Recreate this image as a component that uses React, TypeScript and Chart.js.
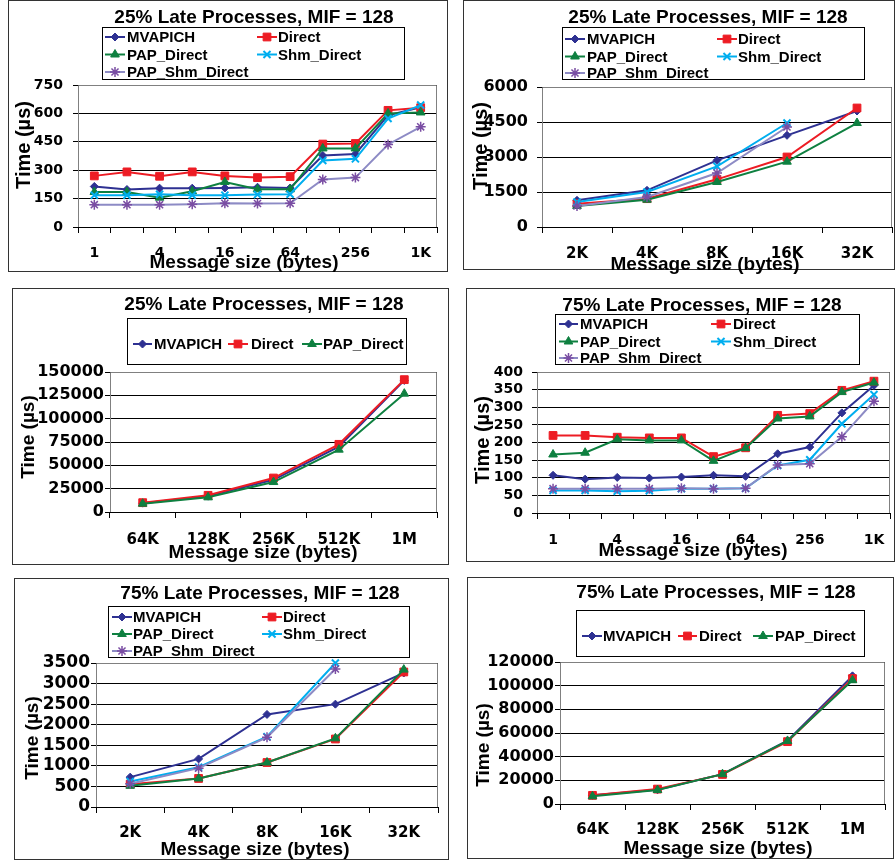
import React, { useEffect, useRef } from 'react';
import { Chart, registerables } from 'chart.js';
import { drawPoint } from 'chart.js/helpers';

Chart.register(...registerables);

// ---------- categories / tick labels ----------
const smallSizes = ['1', '2', '4', '8', '16', '32', '64', '128', '256', '512', '1K'];
const midSizes = ['2K', '4K', '8K', '16K', '32K'];
const largeSizes = ['64K', '128K', '256K', '512K', '1M'];

const seriesNames = ['MVAPICH', 'Direct', 'PAP_Direct', 'Shm_Direct', 'PAP_Shm_Direct'];

const title25 = '25% Late Processes, MIF = 128';
const title75 = '75% Late Processes, MIF = 128';
const xAxisTitle = 'Message size (bytes)';
const yAxisTitle = 'Time (µs)';

// ---------- 25% late, small messages ----------
const late25SmallMvapich = [214, 198, 205, 205, 206, 210, 206, 378, 386, 590, 632];
const late25SmallDirect = [270, 291, 268, 291, 270, 261, 266, 438, 441, 616, 630];
const late25SmallPap = [185, 185, 155, 189, 238, 199, 199, 415, 415, 600, 605];
const late25SmallShm = [168, 168, 173, 168, 168, 171, 173, 351, 360, 573, 644];
const late25SmallPapShm = [118, 118, 118, 120, 125, 124, 125, 251, 261, 436, 529];

// ---------- 25% late, medium messages ----------
const late25MidMvapich = [1143, 1571, 2857, 3929, 4971];
const late25MidDirect = [1000, 1214, 2043, 3000, 5100];
const late25MidPap = [900, 1171, 1929, 2800, 4457];
const late25MidShm = [1071, 1500, 2600, 4457, null];
const late25MidPapShm = [900, 1286, 2314, 4286, null];

// ---------- 25% late, large messages ----------
const late25LargeMvapich = [9500, 17000, 34500, 70000, 141000];
const late25LargeDirect = [10000, 17857, 36400, 72500, 141800];
const late25LargePap = [8900, 15700, 32100, 66800, 126800];

// ---------- 75% late, small messages ----------
const late75SmallMvapich = [107, 96, 101, 99, 102, 107, 104, 168, 187, 284, 362];
const late75SmallDirect = [220, 220, 215, 213, 213, 160, 185, 277, 282, 348, 374];
const late75SmallPap = [166, 171, 209, 206, 206, 148, 184, 268, 274, 343, 370];
const late75SmallShm = [64, 64, 62, 63, 69, 69, 70, 135, 151, 253, 336];
const late75SmallPapShm = [69, 69, 69, 69, 70, 69, 70, 136, 140, 216, 317];

// ---------- 75% late, medium messages ----------
const late75MidMvapich = [726, 1169, 2250, 2500, 3258];
const late75MidDirect = [556, 694, 1081, 1653, 3282];
const late75MidPap = [516, 694, 1081, 1669, 3339];
const late75MidShm = [621, 968, 1710, 3500, null];
const late75MidPapShm = [565, 944, 1694, 3355, null];

// ---------- 75% late, large messages ----------
const late75LargeMvapich = [7300, 12000, 25200, 53500, 108300];
const late75LargeDirect = [7300, 12600, 25000, 52700, 106000];
const late75LargePap = [6500, 11800, 25200, 53300, 104600];

// ---------- styles ----------
const seriesStyles = [
  { line: '#2E3192', marker: '#2E3192', pointStyle: 'rectRot', radius: 4, pbw: 1 },
  { line: '#ED1C24', marker: '#ED1C24', pointStyle: 'rect', radius: 5.5, pbw: 1 },
  { line: '#0E8040', marker: '#0E8040', pointStyle: 'triangle', radius: 5, pbw: 1 },
  { line: '#00AEEF', marker: '#00AEEF', pointStyle: 'crossRot', radius: 5, pbw: 2 },
  { line: '#8D8BC5', marker: '#7A4DA3', pointStyle: 'star', radius: 5, pbw: 1.5 },
];

const ARIAL = '"Liberation Sans", Arial, Helvetica, sans-serif';
const DEJAVU = '"DejaVu Sans", sans-serif';
const M = 6;

const fiveRows = (c1: number[], c2: number[], rows: number[]) => [
  [c1[0], c1[1], c1[2], rows[0]],
  [c2[0], c2[1], c2[2], rows[0]],
  [c1[0], c1[1], c1[2], rows[1]],
  [c2[0], c2[1], c2[2], rows[1]],
  [c1[0], c1[1], c1[2], rows[2]],
];

const panels: any[] = [
  {
    frame: [8, 0, 440, 272], plot: [78, 85, 437, 227],
    labels: smallSizes, every: 2,
    series: [late25SmallMvapich, late25SmallDirect, late25SmallPap, late25SmallShm, late25SmallPapShm],
    yMax: 750, yStep: 150, yFont: 14, xFont: 14, yPad: 10, xPad: 12,
    title: title25, titlePos: [254, 16], xTitlePos: [244, 261], yTitlePos: [23, 145, 20],
    legendBox: [102, 27, 303, 53],
    legendItems: fiveRows([105, 125, 127], [257, 277, 278], [37, 54.5, 72]),
  },
  {
    frame: [463, 0, 432, 270], plot: [542, 87, 892, 227],
    labels: midSizes, every: 1,
    series: [late25MidMvapich, late25MidDirect, late25MidPap, late25MidShm, late25MidPapShm],
    yMax: 6000, yStep: 1500, yFont: 16, xFont: 15, yPad: 9, xPad: 12,
    title: title25, titlePos: [708, 16.5], xTitlePos: [705, 263], yTitlePos: [480, 146, 20],
    legendBox: [562, 27, 303, 53],
    legendItems: fiveRows([565, 585, 587], [717, 737, 738], [39, 56.5, 73]),
  },
  {
    frame: [12, 288, 437, 277], plot: [110, 372, 437, 512],
    labels: largeSizes, every: 1,
    series: [late25LargeMvapich, late25LargeDirect, late25LargePap],
    yMax: 150000, yStep: 25000, yFont: 16, xFont: 15, yPad: 1, xPad: 13,
    title: title25, titlePos: [264, 303.5], xTitlePos: [263, 551], yTitlePos: [27, 437, 19],
    legendBox: [127, 318, 280, 47],
    legendItems: [[133, 152, 154, 344], [228, 248, 251, 344], [302, 322, 323, 344]],
  },
  {
    frame: [466, 288, 429, 274], plot: [537, 372, 890, 513],
    labels: smallSizes, every: 2,
    series: [late75SmallMvapich, late75SmallDirect, late75SmallPap, late75SmallShm, late75SmallPapShm],
    yMax: 400, yStep: 50, yFont: 14, xFont: 14, yPad: 9, xPad: 13,
    title: title75, titlePos: [702, 304], xTitlePos: [693, 549], yTitlePos: [482, 440, 20],
    legendBox: [555, 314, 305, 51],
    legendItems: fiveRows([559, 578, 580], [711, 731, 733], [324, 341.5, 358]),
  },
  {
    frame: [14, 578, 435, 282], plot: [96, 663, 438, 807],
    labels: midSizes, every: 1,
    series: [late75MidMvapich, late75MidDirect, late75MidPap, late75MidShm, late75MidPapShm],
    yMax: 3500, yStep: 500, yFont: 17, xFont: 15, yPad: 1, xPad: 11,
    title: title75, titlePos: [260, 592.5], xTitlePos: [255, 848], yTitlePos: [31, 738, 19],
    legendBox: [108, 606, 302, 52],
    legendItems: fiveRows([112, 132, 133], [262, 282, 283], [617, 634, 651]),
  },
  {
    frame: [467, 577, 427, 282], plot: [560, 662, 885, 804],
    labels: largeSizes, every: 1,
    series: [late75LargeMvapich, late75LargeDirect, late75LargePap],
    yMax: 120000, yStep: 20000, yFont: 16, xFont: 15, yPad: 1, xPad: 11,
    title: title75, titlePos: [716, 591], xTitlePos: [718, 847], yTitlePos: [482, 745, 19],
    legendBox: [576, 610, 289, 47],
    legendItems: [[582, 602, 603, 636], [678, 697, 699, 636], [753, 773, 775, 636]],
  },
];

function PanelChart({ p }: { p: any }) {
  const ref = useRef<HTMLCanvasElement>(null);
  const [fx, fy, fw, fh] = p.frame;
  const cx0 = fx - M;
  const cy0 = fy - M;
  const cw = fw + 2 * M;
  const ch = fh + 2 * M;

  useEffect(() => {
    const [pl, pt, pr, pb] = p.plot;
    const n = p.series.length;
    const datasets = p.series.map((data: any, i: number) => {
      const s = seriesStyles[i];
      return {
        label: seriesNames[i],
        data,
        borderColor: s.line,
        backgroundColor: s.marker,
        pointBackgroundColor: s.marker,
        pointBorderColor: s.marker,
        pointStyle: s.pointStyle,
        pointRadius: s.radius,
        pointBorderWidth: s.pbw,
        borderWidth: 2,
        tension: 0,
        spanGaps: false,
        clip: false,
        order: n - i,
      };
    });

    const decor = {
      id: 'decor',
      beforeDraw(chart: any) {
        const ctx = chart.ctx;
        ctx.save();
        ctx.strokeStyle = '#333333';
        ctx.lineWidth = 1;
        ctx.strokeRect(M + 0.5, M + 0.5, fw - 1, fh - 1);
        ctx.restore();
      },
      beforeDatasetsDraw(chart: any) {
        const ctx = chart.ctx;
        const { left, top, right, bottom } = chart.chartArea;
        ctx.save();
        ctx.strokeStyle = '#808080';
        ctx.lineWidth = 1;
        ctx.beginPath();
        ctx.moveTo(left + 0.5, bottom);
        ctx.lineTo(left + 0.5, top + 0.5);
        ctx.lineTo(right - 0.5, top + 0.5);
        ctx.lineTo(right - 0.5, bottom);
        ctx.stroke();
        ctx.restore();
      },
      afterDraw(chart: any) {
        const ctx = chart.ctx;
        ctx.save();
        ctx.fillStyle = '#000';
        // title
        ctx.font = `bold 19px ${ARIAL}`;
        ctx.textAlign = 'center';
        ctx.textBaseline = 'alphabetic';
        ctx.fillText(p.title, p.titlePos[0] - cx0, p.titlePos[1] - cy0 + 0.358 * 19);
        // x axis title
        ctx.fillText(xAxisTitle, p.xTitlePos[0] - cx0, p.xTitlePos[1] - cy0 + 0.358 * 19);
        // y axis title
        const ys = p.yTitlePos[2];
        ctx.save();
        ctx.translate(p.yTitlePos[0] - cx0, p.yTitlePos[1] - cy0);
        ctx.rotate(-Math.PI / 2);
        ctx.font = `bold ${ys}px ${ARIAL}`;
        ctx.fillText(yAxisTitle, 0, 0.358 * ys);
        ctx.restore();
        // legend
        const [bx, by, bw, bh] = p.legendBox;
        ctx.fillStyle = '#fff';
        ctx.fillRect(bx - cx0, by - cy0, bw, bh);
        ctx.strokeStyle = '#000';
        ctx.lineWidth = 1;
        ctx.strokeRect(bx - cx0 + 0.5, by - cy0 + 0.5, bw - 1, bh - 1);
        p.legendItems.forEach((it: number[], i: number) => {
          const s = seriesStyles[i];
          const [x1, x2, tx, y] = it;
          const yy = y - cy0;
          ctx.strokeStyle = s.line;
          ctx.lineWidth = 2;
          ctx.beginPath();
          ctx.moveTo(x1 - cx0, yy);
          ctx.lineTo(x2 - cx0, yy);
          ctx.stroke();
          ctx.fillStyle = s.marker;
          ctx.strokeStyle = s.marker;
          ctx.lineWidth = s.pbw;
          drawPoint(ctx, { pointStyle: s.pointStyle, radius: s.radius, borderWidth: s.pbw, rotation: 0 } as any, (x1 + x2) / 2 - cx0, yy);
          ctx.fillStyle = '#000';
          ctx.font = `bold 15px ${ARIAL}`;
          ctx.textAlign = 'left';
          ctx.textBaseline = 'alphabetic';
          ctx.fillText(seriesNames[i], tx - cx0, yy + 0.358 * 15);
        });
        ctx.restore();
      },
    };

    const chart = new Chart(ref.current as HTMLCanvasElement, {
      type: 'line',
      data: { labels: p.labels, datasets },
      options: {
        animation: false,
        responsive: false,
        devicePixelRatio: 1,
        events: [],
        layout: { padding: { left: 0, top: pt - cy0, right: cx0 + cw - pr, bottom: 0 } },
        plugins: {
          legend: { display: false },
          title: { display: false },
          tooltip: { enabled: false },
        },
        scales: {
          x: {
            type: 'category',
            offset: true,
            grid: { offset: true, drawOnChartArea: false, drawTicks: true, tickLength: 6, color: '#000', lineWidth: 1 },
            border: { display: true, color: '#000', width: 1 },
            ticks: {
              autoSkip: false,
              maxRotation: 0,
              minRotation: 0,
              padding: p.xPad,
              color: '#000',
              font: { family: DEJAVU, weight: 'bold', size: p.xFont },
              callback: (_v: any, i: number) => (i % p.every === 0 ? p.labels[i] : ''),
            },
            afterFit: (s: any) => { s.height = cy0 + ch - pb; },
          },
          y: {
            min: 0,
            max: p.yMax,
            ticks: {
              stepSize: p.yStep,
              autoSkip: false,
              padding: p.yPad,
              color: '#000',
              font: { family: DEJAVU, weight: 'bold', size: p.yFont },
              callback: (v: any) => String(v),
            },
            grid: { color: '#000', lineWidth: 1, drawTicks: true, tickLength: 5 },
            border: { display: false },
            afterFit: (s: any) => { s.width = pl - cx0; },
          },
        },
      } as any,
      plugins: [decor],
    });
    return () => chart.destroy();
  }, []);

  return (
    <canvas
      ref={ref}
      width={cw}
      height={ch}
      style={{ position: 'absolute', left: cx0, top: cy0, width: cw, height: ch }}
    />
  );
}

export default function App() {
  return (
    <div style={{ position: 'absolute', left: 0, top: 0, width: 896, height: 861, overflow: 'hidden', background: '#fff' }}>
      {panels.map((p, i) => (
        <PanelChart key={i} p={p} />
      ))}
    </div>
  );
}
